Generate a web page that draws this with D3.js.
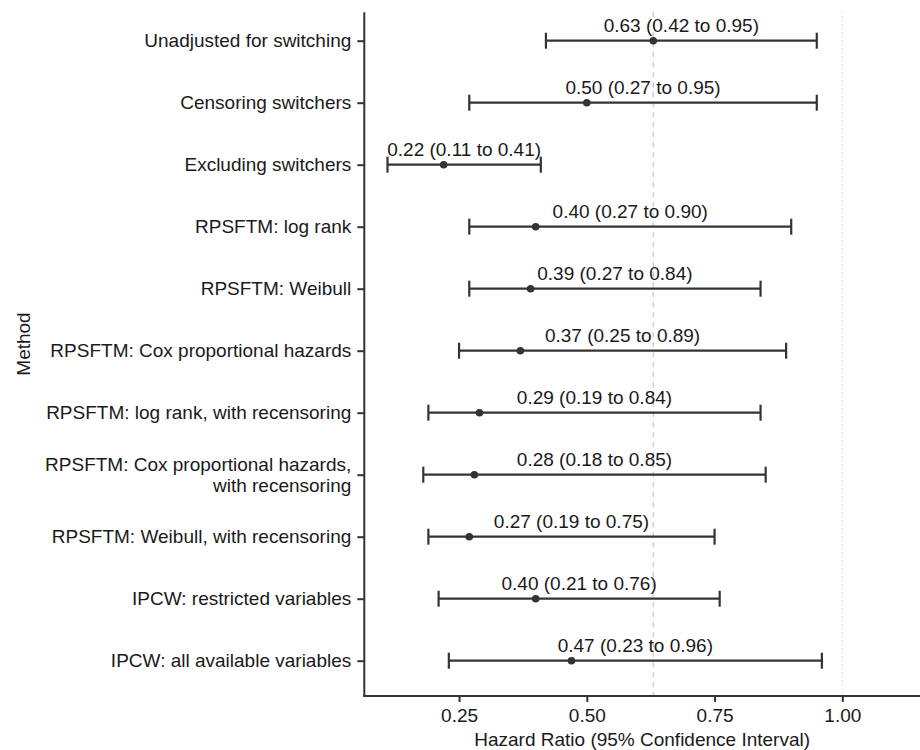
<!DOCTYPE html>
<html>
<head>
<meta charset="utf-8">
<script src="https://cdn.jsdelivr.net/npm/d3@7/dist/d3.min.js"></script>
<style>
  html, body { margin: 0; padding: 0; background: #fff; }
  svg { display: block; }
  text { font-family: "Liberation Sans", Arial, Helvetica, sans-serif; fill: #1a1a1a; }
</style>
</head>
<body>
<svg id="chart" width="920" height="750"></svg>
<script>
const methods = [
  "Unadjusted for switching",
  "Censoring switchers",
  "Excluding switchers",
  "RPSFTM: log rank",
  "RPSFTM: Weibull",
  "RPSFTM: Cox proportional hazards",
  "RPSFTM: log rank, with recensoring",
  "RPSFTM: Cox proportional hazards,\nwith recensoring",
  "RPSFTM: Weibull, with recensoring",
  "IPCW: restricted variables",
  "IPCW: all available variables"
];
const hr    = [0.63, 0.50, 0.22, 0.40, 0.39, 0.37, 0.29, 0.28, 0.27, 0.40, 0.47];
const lower = [0.42, 0.27, 0.11, 0.27, 0.27, 0.25, 0.19, 0.18, 0.19, 0.21, 0.23];
const upper = [0.95, 0.95, 0.41, 0.90, 0.84, 0.89, 0.84, 0.85, 0.75, 0.76, 0.96];
const xTicks = [0.25, 0.50, 0.75, 1.00];
const refUnadjusted = 0.63;
const refNull = 1.00;

(function () {
const rows = methods.map((m, i) => ({ method: m, hr: hr[i], lo: lower[i], hi: upper[i] }));

const svg = d3.select("#chart");
const FONT = 19;
const pL = 364.3, pR = 920, pT = 12.3, pB = 696;

const x = d3.scaleLinear().domain([0.0646, 1.152]).range([pL, pR]);
const y = d3.scalePoint().domain(methods).range([40.7, 660.7]);

const ink = "#333333";

// reference lines
svg.append("line")
  .attr("x1", x(refNull)).attr("x2", x(refNull))
  .attr("y1", pT).attr("y2", pB)
  .attr("stroke", "#c8c8c8").attr("stroke-width", 1)
  .attr("stroke-dasharray", "1,3");
svg.append("line")
  .attr("x1", x(refUnadjusted)).attr("x2", x(refUnadjusted))
  .attr("y1", pT).attr("y2", pB)
  .attr("stroke", "#c4c4c4").attr("stroke-width", 1.2)
  .attr("stroke-dasharray", "5,5");

// y axis
const yAxis = svg.append("g")
  .attr("transform", `translate(${pL},0)`)
  .call(d3.axisLeft(y).tickSize(7).tickPadding(6));
yAxis.select(".domain").remove();
yAxis.selectAll(".tick line").attr("stroke", ink).attr("stroke-width", 2);
yAxis.selectAll(".tick text")
  .attr("font-size", FONT).attr("fill", "#1a1a1a")
  .style("font-family", '"Liberation Sans", Arial, sans-serif')
  .each(function(d) {
    const parts = d.split("\n");
    if (parts.length > 1) {
      const t = d3.select(this);
      t.text(null).attr("dy", null);
      const lh = 20.5;
      parts.forEach((p, k) => {
        t.append("tspan")
          .attr("x", -13)
          .attr("y", (k - (parts.length - 1) / 2) * lh)
          .attr("dy", "0.33em")
          .text(p);
      });
    }
  });
svg.append("line")
  .attr("x1", pL).attr("x2", pL).attr("y1", pT).attr("y2", pB + 1)
  .attr("stroke", ink).attr("stroke-width", 2);

// x axis
const xAxis = svg.append("g")
  .attr("transform", `translate(0,${pB})`)
  .call(d3.axisBottom(x).tickValues(xTicks).tickFormat(d3.format(".2f")).tickSize(6).tickPadding(7));
xAxis.select(".domain").remove();
xAxis.selectAll(".tick line").attr("stroke", ink).attr("stroke-width", 2);
xAxis.selectAll(".tick text")
  .attr("font-size", FONT).attr("fill", "#1a1a1a")
  .style("font-family", '"Liberation Sans", Arial, sans-serif');
svg.append("line")
  .attr("x1", pL - 1).attr("x2", pR).attr("y1", pB).attr("y2", pB)
  .attr("stroke", ink).attr("stroke-width", 2);

// axis titles
svg.append("text")
  .attr("x", (pL + pR) / 2).attr("y", 746)
  .attr("text-anchor", "middle").attr("font-size", FONT)
  .text("Hazard Ratio (95% Confidence Interval)");
svg.append("text")
  .attr("transform", "translate(23,344) rotate(-90)")
  .attr("text-anchor", "middle").attr("dy", "0.35em").attr("font-size", FONT)
  .text("Method");

// error bars
const g = svg.append("g");
const bar = g.selectAll("g.row").data(rows).join("g").attr("class", "row");
bar.append("line")
  .attr("x1", d => x(d.lo)).attr("x2", d => x(d.hi))
  .attr("y1", d => y(d.method)).attr("y2", d => y(d.method))
  .attr("stroke", ink).attr("stroke-width", 2.2);
bar.append("line")
  .attr("x1", d => x(d.lo)).attr("x2", d => x(d.lo))
  .attr("y1", d => y(d.method) - 8).attr("y2", d => y(d.method) + 8)
  .attr("stroke", ink).attr("stroke-width", 2.2);
bar.append("line")
  .attr("x1", d => x(d.hi)).attr("x2", d => x(d.hi))
  .attr("y1", d => y(d.method) - 8).attr("y2", d => y(d.method) + 8)
  .attr("stroke", ink).attr("stroke-width", 2.2);
bar.append("circle")
  .attr("cx", d => x(d.hr)).attr("cy", d => y(d.method))
  .attr("r", 3.8).attr("fill", ink);
bar.append("text")
  .attr("x", d => x((d.lo + d.hi) / 2))
  .attr("y", d => y(d.method) - 9)
  .attr("text-anchor", "middle").attr("font-size", FONT)
  .text(d => `${d.hr.toFixed(2)} (${d.lo.toFixed(2)} to ${d.hi.toFixed(2)})`);
})();
</script>
</body>
</html>
